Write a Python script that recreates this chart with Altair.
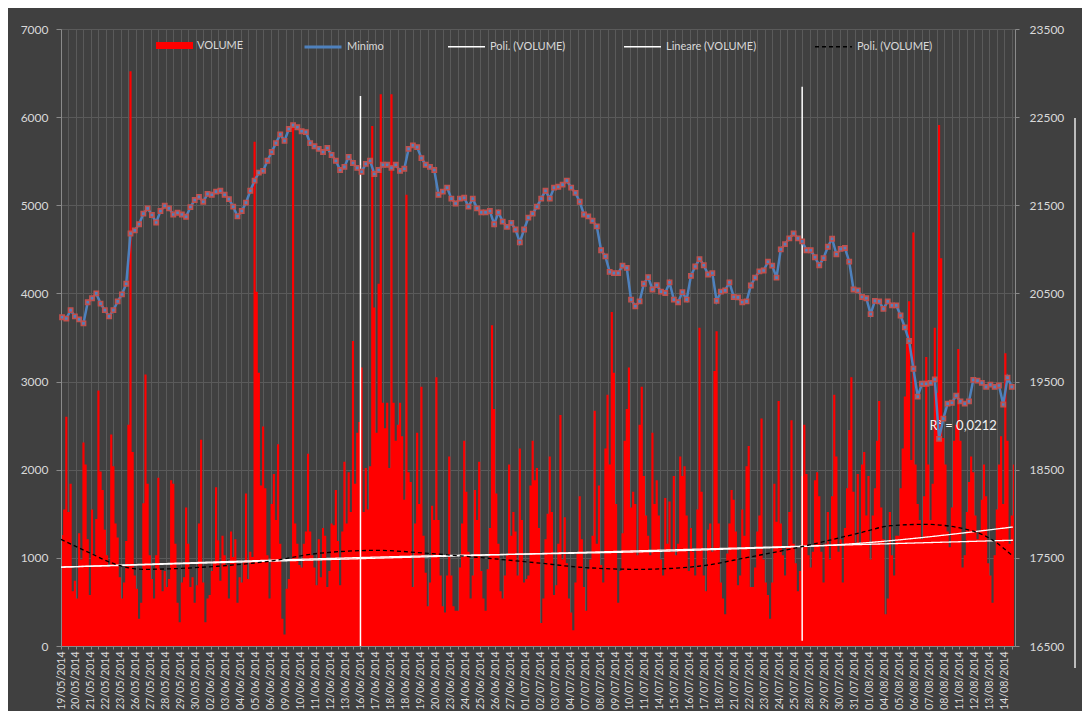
import altair as alt
import pandas as pd

# ---------------- data ----------------
DATE_LABELS = [
    "19/05/2014", "20/05/2014", "21/05/2014", "22/05/2014", "23/05/2014", "26/05/2014", "27/05/2014", "28/05/2014", "29/05/2014", "30/05/2014",
    "02/06/2014", "03/06/2014", "04/06/2014", "05/06/2014", "06/06/2014", "09/06/2014", "10/06/2014", "11/06/2014", "12/06/2014", "13/06/2014",
    "16/06/2014", "17/06/2014", "18/06/2014", "18/06/2014", "19/06/2014", "20/06/2014", "23/06/2014", "24/06/2014", "25/06/2014", "26/06/2014",
    "27/06/2014", "01/07/2014", "02/07/2014", "03/07/2014", "04/07/2014", "07/07/2014", "08/07/2014", "09/07/2014", "10/07/2014", "11/07/2014",
    "14/07/2014", "15/07/2014", "16/07/2014", "17/07/2014", "18/07/2014", "21/07/2014", "22/07/2014", "23/07/2014", "24/07/2014", "25/07/2014",
    "28/07/2014", "29/07/2014", "30/07/2014", "31/07/2014", "01/08/2014", "04/08/2014", "05/08/2014", "06/08/2014", "07/08/2014", "08/08/2014",
    "11/08/2014", "12/08/2014", "13/08/2014", "14/08/2014",
]
POINTS_PER_LABEL = 7

VOLUME = [
    1260, 1550, 2600, 1520, 1840, 620, 740, 540, 1280, 980,
    2310, 2060, 1210, 580, 1550, 1030, 1440, 2900, 1980, 1770,
    1320, 1030, 900, 2400, 2040, 1390, 1230, 780, 540, 720,
    1190, 2510, 6520, 2200, 800, 650, 310, 490, 1620, 3080,
    1840, 1030, 760, 540, 1030, 1910, 870, 620, 850, 670,
    760, 1880, 1840, 1160, 490, 270, 720, 780, 1570, 1160,
    670, 780, 490, 690, 1390, 2340, 720, 270, 540, 580,
    850, 960, 1800, 1200,
    740, 1250, 1030, 920, 540, 1300, 1010, 1210, 490, 780,
    720, 960, 1730, 760, 1070, 1010, 5720, 4020, 3100, 1820,
    2490, 1790, 1030, 540, 1610, 1950, 1430, 2290, 1160, 310,
    130, 650, 760, 980, 5930, 1390, 1160, 920, 890, 1160,
    1300, 2180, 1300, 1030, 890, 690, 1210, 780, 1340, 1250,
    670, 850, 1390, 1370, 1770, 1190, 690, 1300, 2090, 1390,
    1970, 1520, 3460, 1840, 2420, 2540, 3160, 1520, 2020, 1550,
    2040, 5900, 3840, 2420, 4110,
    6260, 2760, 2470, 2760, 2020, 6260, 2760, 2330, 2510, 2760,
    2380, 1660, 5120, 1970, 1860, 670, 1390, 2420, 1610, 2940,
    1250, 830, 450, 720, 1590, 1430, 3050, 1430, 800, 450,
    380, 800, 2150, 800, 450, 400, 400, 890, 1390, 2330,
    1750, 1070, 540, 800, 1770, 1430, 2090, 850, 540, 400,
    870, 1340, 3640, 2690, 1730, 1160, 620, 540, 800, 1030,
    2060, 1250, 1520, 1300, 800, 2240, 1430, 720, 760, 800,
    1820, 2330, 1880, 2020,
    1340, 260, 540, 1210, 1500, 2150, 1520, 580, 690, 1160,
    2620, 980, 1460, 940, 540, 380, 180, 720, 1050, 1700,
    1210, 670, 400, 870, 980, 1250, 2670, 1160, 1820, 920,
    720, 2240, 2850, 2060, 3790, 3100, 1610, 490, 850, 1280,
    2330, 2690, 3160, 1570, 1750, 1610, 1030, 2510, 2940, 1930,
    1480, 1250, 1030, 2420, 1610, 1880, 1480, 980, 800, 1680,
    1160, 1640, 1070, 1930, 1030, 1160, 2150, 1930, 2040, 1480,
    850, 1340, 1070, 800, 1550,
    3610, 1750, 800, 620, 1320, 1390, 1070, 3120, 3570, 1390,
    720, 540, 360, 1050, 1390, 1770, 1660, 1300, 690, 800,
    1550, 1250, 2040, 2270, 670, 670, 890, 1300, 1480, 2580,
    980, 720, 580, 310, 720, 1840, 1410, 2780, 1390, 1030,
    800, 1120, 1520, 2560, 1160, 940, 620, 850, 1930, 2510,
    1950, 1030, 890, 1070, 1880, 1970, 1700, 1070, 720, 1160,
    1520, 980, 1700, 2850, 2150, 1070, 1210, 720, 1340, 1790,
    2450, 3050, 1750, 1160, 1950,
    1160, 2060, 2200, 1480, 1930, 980, 1480, 1790, 2330, 2780,
    1570, 1210, 360, 540, 1520, 1030, 800, 1250, 1250, 1790,
    2240, 2830, 3430, 3910, 2110, 4690, 2060, 1610, 1430, 1210,
    1700, 3280, 2060, 1430, 1840, 3610, 2870, 5910, 4400, 2360,
    2060, 1300, 1120, 1570, 2330, 2510, 3370, 2330, 890, 1030,
    1520, 1860, 2150, 1970, 1480, 1210, 1300, 1660, 2060, 1700,
    940, 800, 490, 1030, 1550, 2060, 2380, 1610, 3320, 2330,
    1160, 1480, 2060,
]

# "Minimo" read at every second point of the category axis
MINIMO = [
    20230, 20215, 20310, 20240, 20205, 20160, 20400, 20445, 20500, 20385,
    20310, 20240, 20310, 20410, 20490, 20610, 21180, 21215, 21285, 21405,
    21465, 21390, 21305, 21435, 21495, 21465, 21395, 21415, 21395, 21370,
    21480, 21560, 21595, 21540, 21630, 21620, 21655,
    21665, 21620, 21570, 21485, 21375, 21435, 21530, 21665, 21780, 21870,
    21890, 22005, 22105, 22205, 22305, 22230, 22365, 22410, 22385, 22340,
    22330, 22205, 22170, 22140, 22105, 22150, 22070, 22005, 21900, 21935,
    22050, 21980, 21925, 21880, 21970, 22005, 21855, 21900,
    21960, 21960, 21925, 21960, 21890, 21915, 22140, 22180, 22160, 22035,
    21960, 21935, 21900, 21620, 21655, 21700, 21575, 21520, 21575, 21585,
    21485, 21575, 21465, 21420, 21420, 21435, 21285, 21420, 21315, 21255,
    21300, 21225, 21080, 21225, 21360, 21405, 21485,
    21575, 21665, 21575, 21700, 21710, 21735, 21780, 21700, 21640, 21540,
    21395, 21375, 21325, 21260, 20990, 20920, 20745, 20730, 20730, 20815,
    20790, 20430, 20355, 20410, 20610, 20685, 20545, 20595, 20520, 20505,
    20625, 20430, 20400, 20515, 20430, 20700, 20805,
    20890,
    20820, 20715, 20730, 20415, 20520, 20535, 20625, 20460, 20455, 20400,
    20410, 20590, 20680, 20750, 20760, 20860, 20815, 20680, 21000, 21060,
    21125, 21180, 21125, 21090, 20990, 20990, 20910, 20820, 20900, 21030,
    21120, 20945, 21005, 21015, 20860, 20545, 20535,
    20460, 20445, 20265, 20415, 20410, 20325, 20410, 20365, 20365, 20250,
    20115, 19960, 19645, 19330, 19475, 19475, 19485, 19525, 18850, 19080,
    19250, 19260, 19340, 19275, 19250, 19275, 19520, 19510, 19485, 19440,
    19465, 19440, 19455, 19240, 19545, 19440,
]
MINIMO_STEP = 2

# trend lines (read at a few category positions)
POLI6_AT = [0, 14, 24, 38, 73, 97, 120, 148, 172, 195, 224, 242, 270, 298, 321, 345, 373, 388, 404, 419, 435, 445]
POLI6 = [1210, 1050, 940, 870, 905, 960, 1050, 1085, 1050, 1005, 940, 895, 870, 905, 1005, 1120, 1280, 1365, 1380, 1345, 1210, 1020]
POLI2_AT = [0, 150, 300, 373, 445]
POLI2 = [895, 1010, 1090, 1165, 1350]
LIN_AT = [0, 445]
LIN = [895, 1200]

# two vertical white lines drawn on the plot
SPIKE_AT = [140, 346.5]
SPIKE_LOW = [0, 60]
SPIKE_HIGH = [6240, 6345]

R2_AT = [406]
R2_LEVEL = [2500]
R2_TEXT = ["R² = 0,0212"]

LEGEND_KEYS = ["P1", "LIN", "P2"]
LEGEND_NAMES = {"P1": "Poli. (VOLUME)", "LIN": "Lineare (VOLUME)", "P2": "Poli. (VOLUME)"}

# ---------------- styling ----------------
FONT = "Lato"
TXT = "#d9d9d9"
GRID = "#5a5a5a"
AXC = "#8a8a8a"
BG = "#404040"

N = len(VOLUME)

vol_df = pd.DataFrame({"x": [i + 0.5 for i in range(N)], "v": VOLUME, "s": "VOLUME"})
min_df = pd.DataFrame({"x": [MINIMO_STEP * i + 0.5 for i in range(len(MINIMO))], "v": MINIMO, "s": "Minimo"})
rows = []
for key, xs, ys in [("P1", POLI2_AT, POLI2), ("LIN", LIN_AT, LIN), ("P2", POLI6_AT, POLI6)]:
    for a, b in zip(xs, ys):
        rows.append({"x": a, "v": b, "s": key})
trend_df = pd.DataFrame(rows)
spike_df = pd.DataFrame({"x": SPIKE_AT, "lo": SPIKE_LOW, "hi": SPIKE_HIGH})
r2_df = pd.DataFrame({"x": R2_AT, "v": R2_LEVEL, "t": R2_TEXT})

lab_js = "[" + ",".join("'%s'" % d for d in DATE_LABELS) + "]"
xscale = alt.Scale(domain=[0, N], nice=False, zero=False)
grid_step = POINTS_PER_LABEL / 2
xaxis = alt.Axis(
    values=[k * grid_step for k in range(int(N / grid_step) + 1)],
    labelExpr=f"datum.value % {POINTS_PER_LABEL} == 0 ? {lab_js}[datum.value / {POINTS_PER_LABEL}] : ''",
    title=None, grid=True, gridColor=GRID, gridWidth=1,
    domainColor=AXC, tickColor=AXC, tickSize=3,
    labelAngle=270, labelColor=TXT, labelFont=FONT, labelFontSize=10.5, labelPadding=2,
    labelOverlap=False, labelFlush=False, labelBound=False,
)
yscaleL = alt.Scale(domain=[0, 7000], nice=False, zero=True)
yaxisL = alt.Axis(
    values=list(range(0, 7001, 1000)), format="d", title=None,
    grid=True, gridColor=GRID, domainColor=AXC, tickColor=AXC, tickSize=5,
    labelColor=TXT, labelFont=FONT, labelFontSize=12, labelPadding=8,
)
yscaleR = alt.Scale(domain=[16500, 23500], nice=False, zero=False)
yaxisR = alt.Axis(
    orient="right", values=list(range(16500, 23501, 1000)), format="d", title=None,
    grid=False, domainColor=AXC, tickColor=AXC, tickSize=4,
    labelColor=TXT, labelFont=FONT, labelFontSize=12, labelPadding=10,
)

common_leg = dict(title=None, orient="none", direction="horizontal", symbolSize=1369,
                  labelColor=TXT, labelFont=FONT, labelFontSize=11, labelOffset=4,
                  padding=0, legendY=-2)
leg_vol = alt.Legend(legendX=95, symbolType="M-1,-0.19H1V0.19H-1Z", symbolStrokeWidth=0, **common_leg)
leg_min = alt.Legend(legendX=242, symbolType="stroke", symbolStrokeWidth=3, **common_leg)
label_expr = " : ".join(f"datum.label == '{k}' ? '{v}'" for k, v in LEGEND_NAMES.items()) + " : ''"
leg_tr = alt.Legend(legendX=386, symbolType="stroke", symbolStrokeWidth=1.3, columnPadding=55,
                    labelExpr=label_expr, **common_leg)

X = alt.X("x:Q", scale=xscale, axis=xaxis)
YL = alt.Y("v:Q", scale=yscaleL, axis=yaxisL)
YR = alt.Y("v:Q", scale=yscaleR, axis=yaxisR)

area = alt.Chart(vol_df).mark_area(interpolate="step", opacity=1).encode(
    x=X, y=YL,
    color=alt.Color("s:N", scale=alt.Scale(domain=["VOLUME"], range=["#ff0000"]), legend=leg_vol),
)
spikes = alt.Chart(spike_df).mark_rule(color="#ffffff", strokeWidth=1.5).encode(
    x=X, y=alt.Y("lo:Q", scale=yscaleL, axis=yaxisL), y2="hi:Q"
)
trends = alt.Chart(trend_df).mark_line(interpolate="monotone", strokeWidth=1.3).encode(
    x=X, y=YL,
    stroke=alt.Stroke("s:N", scale=alt.Scale(domain=LEGEND_KEYS, range=["#ffffff", "#ffffff", "#000000"]), legend=leg_tr),
    strokeDash=alt.StrokeDash("s:N", scale=alt.Scale(domain=LEGEND_KEYS, range=[[1, 0], [1, 0], [4, 3]]), legend=leg_tr),
)
r2 = alt.Chart(r2_df).mark_text(align="left", baseline="middle", color="#f2f2f2", font=FONT, fontSize=13).encode(
    x=X, y=YL, text="t:N"
)
edge = alt.Chart(pd.DataFrame({"d": [0]})).mark_rule(color="#e6e6e6", strokeWidth=1.5).encode(
    x=alt.value(1014), y=alt.value(89), y2=alt.value(639)
)
left = alt.layer(area, spikes, trends, r2, edge)

min_line = alt.Chart(min_df).mark_line(strokeWidth=2.5).encode(
    x=X, y=YR,
    stroke=alt.Stroke("s:N", scale=alt.Scale(domain=["Minimo"], range=["#4f81bd"]), legend=leg_min),
)
min_pts = alt.Chart(min_df).mark_square(size=18, fill="#4f81bd", stroke="#c0504d", strokeWidth=1.6, opacity=1).encode(
    x=X, y=YR
)
right = alt.layer(min_line, min_pts)

chart = alt.layer(left, right).resolve_scale(
    y="independent", stroke="independent", strokeDash="independent"
).properties(
    width=954, height=617, background=BG,
    padding={"left": 53, "top": 21, "right": 67, "bottom": 65},
    autosize=alt.AutoSizeParams(type="none"),
).configure_view(stroke=None)

chart.save("out.html", embed_options={"renderer": "svg", "actions": False})
